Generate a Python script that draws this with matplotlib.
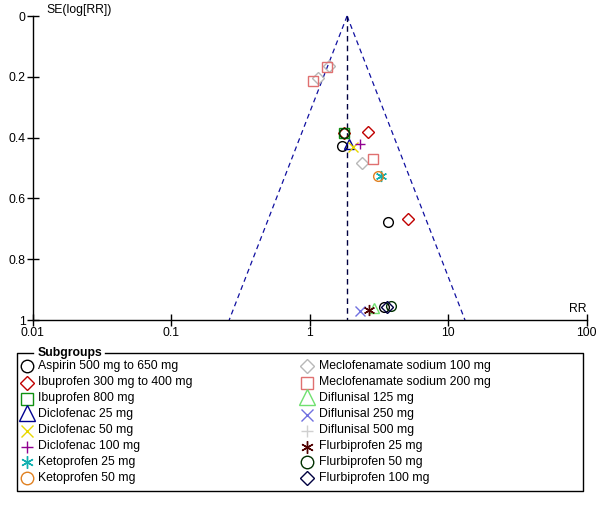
import numpy as np
import matplotlib.pyplot as plt

plt.rcParams['font.family'] = ['Liberation Sans', 'DejaVu Sans']

# pooled estimate (RR) for the funnel
pooled_rr = 1.86

# subgroup names, marker styles and colours
names = [
    'Aspirin 500 mg to 650 mg', 'Ibuprofen 300 mg to 400 mg', 'Ibuprofen 800 mg',
    'Diclofenac 25 mg', 'Diclofenac 50 mg', 'Diclofenac 100 mg',
    'Ketoprofen 25 mg', 'Ketoprofen 50 mg',
    'Meclofenamate sodium 100 mg', 'Meclofenamate sodium 200 mg',
    'Diflunisal 125 mg', 'Diflunisal 250 mg', 'Diflunisal 500 mg',
    'Flurbiprofen 25 mg', 'Flurbiprofen 50 mg', 'Flurbiprofen 100 mg',
]
ASTER = (6, 2, 0)
markers = ['o', 'D', 's', '^', 'x', '+', ASTER, 'o',
           'D', 's', '^', 'x', '+', ASTER, 'o', 'D']
colors = ['#000000', '#c00000', '#109010', '#000090', '#e8d800', '#900090',
          '#10b0b0', '#e08020', '#b8b8b8', '#e07070', '#70e070', '#7070e0',
          '#d0d0d0', '#500000', '#003000', '#000040']

# study points per subgroup: RR and SE(log RR)
rr = [
    [1.70, 3.66, 3.44],
    [1.77, 2.65, 5.15],
    [1.77],
    [1.92],
    [2.04],
    [2.31],
    [3.26],
    [3.13],
    [1.38, 1.15, 2.37],
    [1.33, 1.06, 2.85],
    [2.93],
    [2.31],
    [],
    [2.68],
    [1.77, 3.86],
    [3.61],
]
se = [
    [0.428, 0.679, 0.956],
    [0.384, 0.380, 0.668],
    [0.384],
    [0.420],
    [0.430],
    [0.421],
    [0.526],
    [0.526],
    [0.164, 0.205, 0.483],
    [0.167, 0.213, 0.471],
    [0.960],
    [0.970],
    [],
    [0.967],
    [0.384, 0.955],
    [0.956],
]


def msize(m):
    if m == ASTER:
        return 8
    return {'D': 6.5, 's': 6.5, '^': 7.5, 'x': 6.5, '+': 7}.get(m, 7)


def leg_size(m):
    if m == ASTER:
        return 9
    return {'D': 7.5, 's': 8, '^': 11, 'x': 8, '+': 9}.get(m, 9)


fig = plt.figure(figsize=(6.0, 5.08), dpi=100)
ax = fig.add_axes([0.0545, 0.370, 0.9235, 0.5985])

ax.set_xscale('log')
ax.set_xlim(0.01, 100)
ax.set_ylim(1, 0)

# funnel
se_line = np.array([0, 1.0])
lo = np.exp(np.log(pooled_rr) - 1.96 * se_line)
hi = np.exp(np.log(pooled_rr) + 1.96 * se_line)
ax.plot(lo, se_line, color='#1010a0', lw=0.9, ls=(0, (4, 3)), clip_on=False)
ax.plot(hi, se_line, color='#1010a0', lw=0.9, ls=(0, (4, 3)), clip_on=False)
ax.plot([pooled_rr, pooled_rr], [0, 1], color='#000040', lw=1.0,
        ls=(0, (4, 3)))

for i in range(len(names)):
    if not rr[i]:
        continue
    m = markers[i]
    ax.plot(rr[i], se[i], ls='none', marker=m, ms=msize(m),
            mfc='none', mec=colors[i], mew=1.0, clip_on=False)

for s in ['top', 'right']:
    ax.spines[s].set_visible(False)
ax.spines['left'].set_linewidth(1.0)
ax.spines['bottom'].set_linewidth(1.0)
ax.set_xticks([0.01, 0.1, 1, 10, 100])
ax.set_xticklabels(['0.01', '0.1', '1', '10', '100'])
ax.minorticks_off()
ax.set_yticks([0, 0.2, 0.4, 0.6, 0.8, 1])
ax.set_yticklabels(['0', '0.2', '0.4', '0.6', '0.8', '1'])
ax.tick_params(direction='inout', length=8, width=1, labelsize=8.8, pad=1)
ax.text(0.0125, 0.0, 'SE(log[RR])', ha='left', va='bottom', fontsize=8.8)
ax.text(100, 0.985, 'RR', ha='right', va='bottom', fontsize=8.8)

# legend box drawn as a fieldset
lg = fig.add_axes([0, 0, 1, 1])
lg.set_xlim(0, 600)
lg.set_ylim(508, 0)
lg.axis('off')
x0, x1, y0, y1 = 16.5, 583, 353, 491
lg.plot([105, x1, x1, x0, x0, 33], [y0, y0, y1, y1, y0, y0],
        color='black', lw=1)
lg.text(37.5, y0, 'Subgroups', fontsize=8.8, fontweight='bold',
        ha='left', va='center')
row_y = [366, 382.5, 398.5, 414.5, 430.5, 446.5, 462, 478]
for i, name in enumerate(names):
    col = i // 8
    r = i % 8
    mx = 27 if col == 0 else 307
    tx = 38 if col == 0 else 319
    m = markers[i]
    my = row_y[r] - 1.5 if m == '^' else row_y[r]
    lg.plot([mx], [my], ls='none', marker=m, ms=leg_size(m),
            mfc='none', mec=colors[i], mew=1.0)
    lg.text(tx, row_y[r], name, fontsize=8.8, ha='left', va='center')

fig.savefig('out.png', dpi=100)
